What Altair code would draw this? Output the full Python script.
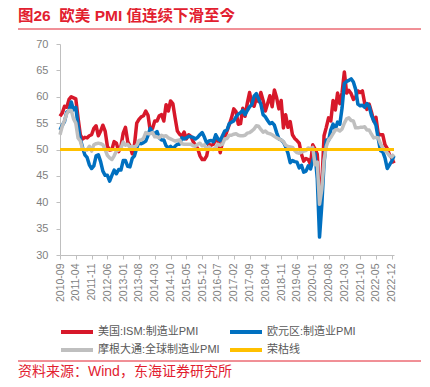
import altair as alt
import pandas as pd

# ---------------- data ----------------
months = [p.strftime("%Y-%m") for p in pd.period_range("2010-09", "2023-01", freq="M")]

ism = [
    56.3, 56.9, 58.2, 58.0,
    59.5, 60.0, 59.8, 59.6, 56.0, 52.8, 52.0, 52.3, 52.2, 52.6, 52.8, 54.0,
    54.5, 52.6, 53.5, 54.6, 53.5, 50.6, 49.9, 50.0, 51.5, 51.2, 49.6, 50.6,
    53.1, 54.2, 51.5, 50.7, 49.2, 50.9, 55.0, 55.7, 56.2, 56.4, 57.3, 56.5,
    53.5, 54.0, 55.4, 55.4, 56.4, 56.6, 55.4, 58.5, 57.3, 59.2, 58.7, 56.0,
    53.5, 52.9, 52.5, 53.3, 52.0, 52.8, 52.5, 51.5, 50.8, 50.2, 48.8, 48.1,
    48.1, 48.8, 51.0, 50.8, 51.0, 52.0, 51.8, 49.4, 51.5, 52.2, 53.5, 54.7,
    56.0, 57.7, 57.2, 54.8, 54.9, 57.8, 56.3, 58.8, 60.8, 58.7, 58.2, 59.7,
    59.1, 60.8, 59.3, 57.3, 58.7, 60.2, 58.1, 61.3, 59.8, 57.7, 59.3, 54.1,
    56.6, 54.2, 55.3, 52.8, 52.1, 51.7, 51.2, 49.1, 47.8, 48.3, 48.1, 47.2,
    50.9, 50.1, 49.1, 41.5, 43.1, 52.6, 54.2, 56.0, 55.4, 59.3, 57.5, 60.7,
    58.7, 60.8, 64.7, 60.7, 61.2, 60.6, 59.5, 59.9, 61.1, 60.8, 61.1, 58.8,
    57.6, 58.6, 57.1, 55.4, 56.1, 53.0, 52.8, 52.8, 50.9, 50.2, 49.0, 48.4,
    47.4,
]

eurozone = [
    53.7, 54.6, 55.3, 57.1,
    57.3, 59.0, 57.5, 58.0, 54.6, 52.0, 50.4, 49.0, 48.5, 47.1, 46.4, 46.9,
    48.8, 49.0, 47.7, 45.9, 45.1, 45.1, 44.0, 45.1, 46.1, 45.4, 46.2, 46.1,
    47.9, 47.9, 46.8, 46.7, 48.3, 48.8, 50.3, 51.4, 51.1, 51.3, 51.6, 52.7,
    54.0, 53.2, 53.0, 53.4, 52.2, 51.8, 51.8, 50.7, 50.3, 50.6, 50.1, 50.6,
    51.0, 51.0, 52.2, 52.0, 52.2, 52.5, 52.4, 52.3, 52.0, 52.3, 52.8, 53.2,
    52.3, 51.2, 51.6, 51.7, 51.5, 52.8, 52.0, 51.7, 52.6, 53.5, 53.7, 54.9,
    55.2, 55.4, 56.2, 56.7, 57.0, 57.4, 56.6, 57.4, 58.1, 58.5, 60.1, 60.6,
    59.6, 58.6, 56.6, 56.2, 55.5, 54.9, 55.1, 54.6, 53.2, 52.0, 51.8, 51.4,
    50.5, 49.3, 47.5, 47.9, 47.7, 47.6, 46.5, 47.0, 45.7, 45.9, 46.9, 46.3,
    47.9, 49.2, 44.5, 33.4, 39.4, 47.4, 51.8, 51.7, 53.7, 54.8, 53.8, 55.2,
    54.8, 57.9, 62.5, 62.9, 63.1, 63.4, 62.8, 61.4, 58.6, 58.3, 58.4, 58.0,
    58.7, 58.2, 56.5, 55.5, 54.6, 52.1, 49.8, 49.6, 48.4, 46.4, 47.1, 47.8,
    48.8,
]

global_pmi = [
    52.8, 54.4, 55.5, 56.8,
    57.4, 57.4, 55.8, 55.0, 52.2, 51.6, 50.1, 49.9, 49.9, 50.6, 49.7, 50.9,
    51.1, 51.2, 51.1, 50.9, 50.0, 48.9, 48.4, 48.1, 48.8, 49.7, 49.9, 50.2,
    51.4, 50.8, 51.0, 50.4, 50.6, 50.4, 50.8, 51.7, 51.8, 52.1, 53.2, 53.0,
    53.0, 53.2, 52.4, 52.4, 52.2, 52.7, 52.5, 52.6, 52.2, 52.0, 51.8, 51.6,
    51.7, 51.8, 51.1, 51.0, 51.0, 51.0, 51.0, 50.7, 50.6, 51.0, 51.2, 50.7,
    50.9, 50.0, 50.5, 50.1, 50.0, 50.4, 51.0, 50.8, 51.0, 52.0, 52.1, 52.7,
    52.7, 52.9, 53.0, 52.7, 52.6, 52.6, 52.7, 53.1, 53.2, 53.5, 53.9, 54.5,
    54.4, 53.8, 53.3, 53.5, 53.1, 53.0, 52.8, 52.5, 52.2, 52.0, 51.8, 51.5,
    50.8, 50.6, 50.5, 50.4, 49.8, 49.4, 49.3, 49.5, 49.7, 49.8, 50.3, 50.1,
    50.4, 47.1, 47.6, 39.6, 42.4, 47.9, 50.6, 51.8, 52.3, 53.0, 53.7, 53.8,
    53.5, 53.9, 55.0, 55.8, 56.0, 55.5, 55.4, 54.1, 54.1, 54.2, 54.2, 54.3,
    53.7, 53.7, 52.9, 52.2, 52.3, 52.2, 51.1, 50.3, 49.8, 49.4, 48.8, 48.6,
    49.1,
]

threshold = 50
series_names = ["美国:ISM:制造业PMI", "欧元区:制造业PMI", "摩根大通:全球制造业PMI", "荣枯线"]
series_colors = ["#D7182A", "#0070C0", "#BFBFBF", "#FFC000"]
y_ticks = [30, 35, 40, 45, 50, 55, 60, 65, 70]
x_ticks = months[::7]

title_text = "图26\u00a0\u00a0欧美 PMI 值连续下滑至今"
source_text = "资料来源：Wind，东海证券研究所"

assert len(ism) == len(months) == len(eurozone) == len(global_pmi)

n = len(months)
df = pd.DataFrame({
    "month": months * 3,
    "value": ism + eurozone + global_pmi,
    "series": [series_names[0]] * n + [series_names[1]] * n + [series_names[2]] * n,
})
df_th = pd.DataFrame({"value": [threshold], "series": [series_names[3]]})

FONT = "'Liberation Sans', 'Noto Sans CJK SC', sans-serif"
RED = "#E2202F"
W, H = 334, 211

color = alt.Color(
    "series:N",
    scale=alt.Scale(domain=series_names, range=series_colors),
    legend=alt.Legend(
        orient="none", legendX=-1, legendY=278, columns=2, direction="horizontal",
        title=None,
        symbolType="M-1,0H3", symbolSize=256, symbolStrokeWidth=4,
        labelFontSize=11, labelColor="#595959", labelFont=FONT,
        columnPadding=2, rowPadding=0, labelOffset=19, padding=0, labelLimit=300,
    ),
)

x_enc = alt.X(
    "month:O", sort=months,
    scale=alt.Scale(type="point", padding=0),
    axis=alt.Axis(
        values=x_ticks, labelAngle=270, labelAlign="right", labelBaseline="middle",
        labelFontSize=10.5, labelColor="#7F7F7F", labelFont=FONT, labelPadding=4,
        tickSize=4, tickColor="#BFBFBF", domainColor="#BFBFBF", title=None, grid=False,
    ),
)
y_enc = alt.Y(
    "value:Q",
    scale=alt.Scale(domain=[30, 70], nice=False, zero=False),
    axis=alt.Axis(
        values=y_ticks, labelFontSize=11, labelColor="#7F7F7F", labelFont=FONT,
        labelPadding=8, tickSize=4, tickColor="#BFBFBF", domainColor="#BFBFBF",
        title=None, grid=False,
    ),
)

layers = []
for s in series_names[:3]:
    layers.append(
        alt.Chart(df).transform_filter(alt.datum.series == s)
        .mark_line(strokeWidth=3.5, strokeJoin="round")
        .encode(x=x_enc, y=y_enc, color=color)
    )

rule50 = alt.Chart(df_th).mark_rule(strokeWidth=3).encode(y=y_enc, color=color)
layers.append(rule50)

title = alt.Chart(pd.DataFrame({"t": [title_text]})).mark_text(
    align="left", baseline="middle", fontSize=15.5, fontWeight="bold", color=RED, font=FONT
).encode(x=alt.value(-42), y=alt.value(-28), text="t:N")
title_line = alt.Chart(pd.DataFrame({"t": [1]})).mark_rule(color=RED, strokeWidth=1).encode(
    x=alt.value(-42), x2=alt.value(361), y=alt.value(-15)
)
foot_line = alt.Chart(pd.DataFrame({"t": [1]})).mark_rule(color=RED, strokeWidth=1).encode(
    x=alt.value(-42), x2=alt.value(361), y=alt.value(317)
)
foot = alt.Chart(pd.DataFrame({"t": [source_text]})).mark_text(
    align="left", baseline="middle", fontSize=14, color=RED, font=FONT
).encode(x=alt.value(-42), y=alt.value(327.5), text="t:N")

chart = alt.layer(*layers, title, title_line, foot_line, foot).properties(
    width=W, height=H,
    autosize="none",
    padding={"left": 52, "top": 36, "right": 28, "bottom": 124},
).configure_view(stroke=None)

chart.save("out.html", embed_options={"renderer": "svg", "actions": False})
